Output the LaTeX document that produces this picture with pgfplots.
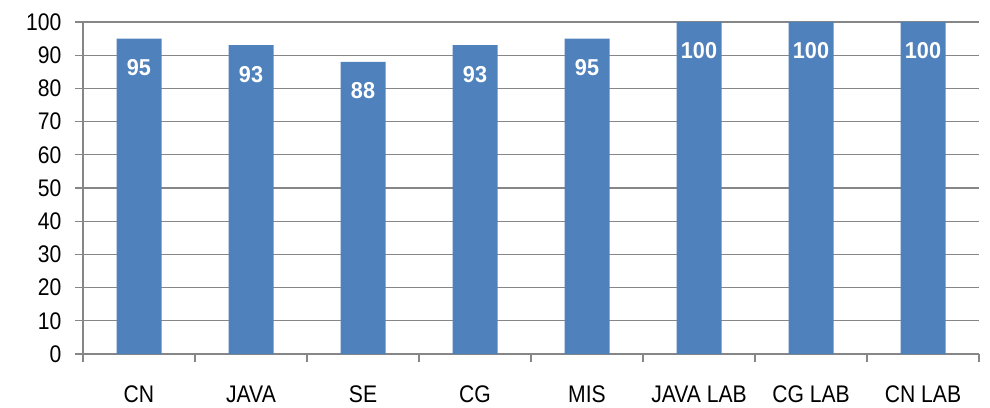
\documentclass[border=0pt]{standalone}
\usepackage{fontspec}
\setmainfont{Liberation Sans}[FakeStretch=0.88]
\newfontfamily\lblfont{Liberation Sans}[FakeStretch=0.94]
\usepackage{pgfplots}
\pgfplotsset{compat=1.18}
\definecolor{barblue}{HTML}{4F81BD}
\definecolor{gridgray}{HTML}{868686}
\begin{document}
\begin{tikzpicture}
\begin{axis}[
  scale only axis,
  width=896bp, height=332bp,
  xmin=-0.5, xmax=7.5, ymin=0, ymax=100,
  axis lines*=left,
  axis line style={gridgray, line width=1.2bp},
  ytick={0,10,...,100},
  ymajorgrids,
  grid style={gridgray, line width=1.2bp},
  xtick={0,...,7},
  xticklabels={CN,JAVA,SE,CG,MIS,JAVA LAB,CG LAB,CN LAB},
  minor xtick={-0.5,0.5,...,7.5},
  tick align=outside,
  major tick length=8bp,
  minor tick length=8bp,
  x tick style={draw=none},
  minor x tick style={draw=gridgray, line width=1.2bp},
  y tick style={draw=gridgray, line width=1.2bp},
  xminorgrids=false,
  /pgf/number format/assume math mode=true,
  tick label style={font=\fontsize{24bp}{28bp}\selectfont, text=black},
  yticklabel style={xshift=-10bp},
  xticklabel style={yshift=-20bp},
  ybar, bar width=45bp,
  nodes near coords,
  nodes near coords style={anchor=center, yshift=-29bp, text=white, font=\lblfont\bfseries\fontsize{23bp}{26bp}\selectfont},
  clip=false,
]
\addplot[fill=barblue, draw=none] coordinates {
(0,95) (1,93) (2,88) (3,93) (4,95) (5,100) (6,100) (7,100)
};
\coordinate (bl) at (rel axis cs:0,0);
\coordinate (tr) at (rel axis cs:1,1);
\end{axis}
\pgfresetboundingbox
\path (bl) ++(-83bp,-53bp) coordinate (p1);
\path (tr) ++(11bp,22bp) coordinate (p2);
\useasboundingbox (p1) rectangle (p2);
\end{tikzpicture}
\end{document}
